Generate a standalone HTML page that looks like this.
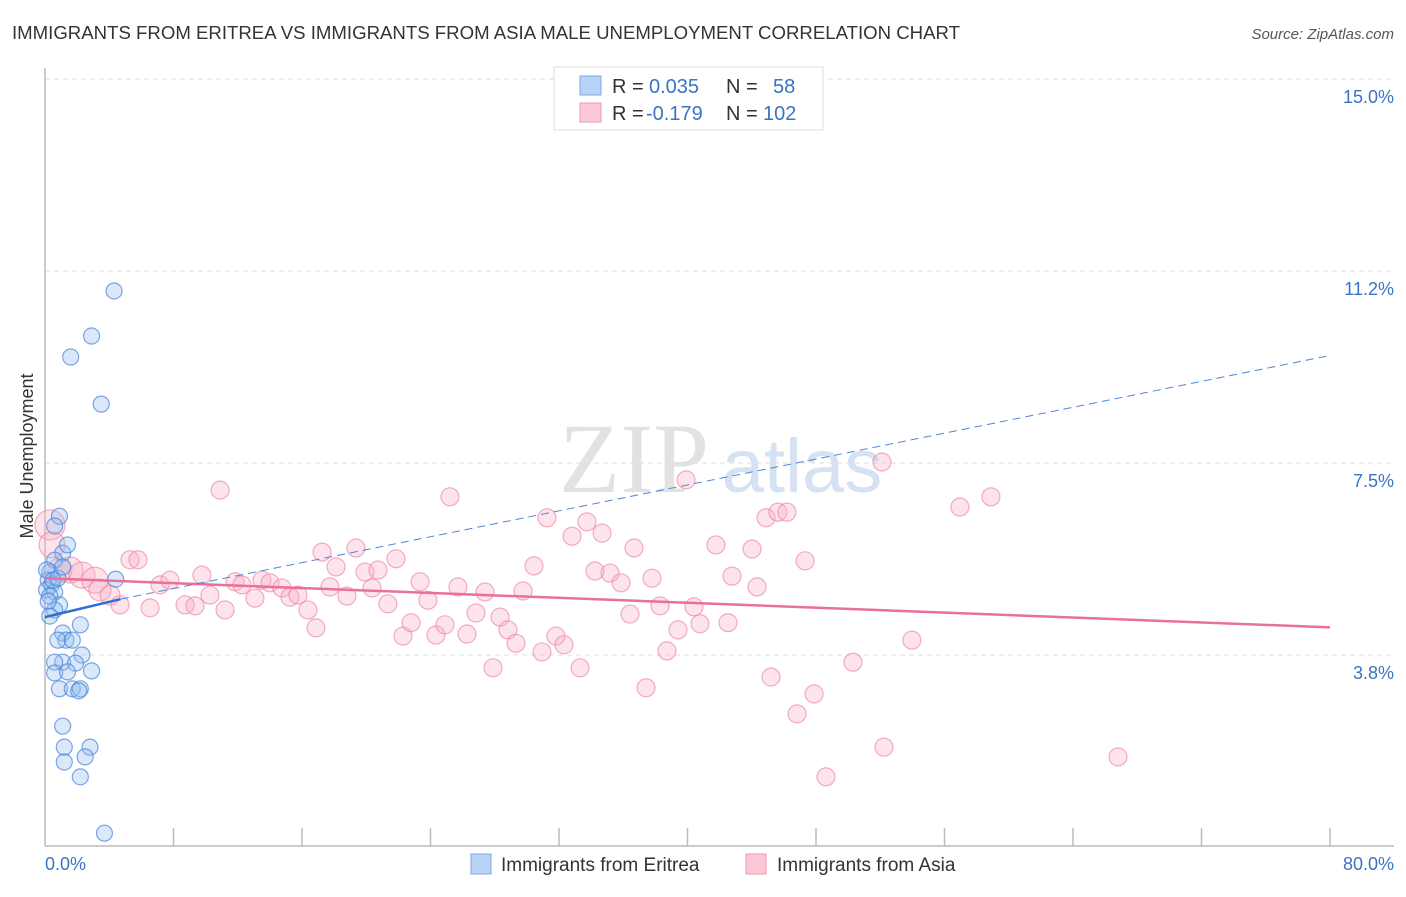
<!DOCTYPE html>
<html><head><meta charset="utf-8"><style>
body{margin:0;background:#fff;font-family:"Liberation Sans",sans-serif;}
#wrap{position:relative;width:1406px;height:892px;}
</style></head><body>
<div id="wrap">
<svg id="svg" width="1406" height="892" xmlns="http://www.w3.org/2000/svg">
<text x="12" y="39" font-size="18" fill="#333" textLength="948" lengthAdjust="spacingAndGlyphs">IMMIGRANTS FROM ERITREA VS IMMIGRANTS FROM ASIA MALE UNEMPLOYMENT CORRELATION CHART</text>
<text x="1394" y="39" font-size="15" fill="#555" font-style="italic" text-anchor="end">Source: ZipAtlas.com</text>
<text x="634" y="492" font-size="100" fill="#e2e2e2" font-family="Liberation Serif,serif" text-anchor="middle">ZIP</text>
<text x="802" y="492" font-size="76" fill="#d4e2f2" text-anchor="middle">atlas</text>
<g id="grid"></g>
<line x1="45" y1="68" x2="45" y2="846" stroke="#bbb" stroke-width="1.5"/>
<line x1="45" y1="846" x2="1394" y2="846" stroke="#bbb" stroke-width="1.5"/>
<text transform="translate(33,456) rotate(-90)" font-size="18" fill="#333" text-anchor="middle">Male Unemployment</text>
<text x="45" y="870" font-size="18" fill="#3b73c4">0.0%</text>
<text x="1394" y="870" font-size="18" fill="#3b73c4" text-anchor="end">80.0%</text>
<g id="pts"></g>
<g id="lines"></g>
<g>
<rect x="554" y="67" width="269" height="63" fill="#fff" stroke="#ddd"/>
<rect x="580" y="76" width="21" height="19" fill="#b8d3f5" stroke="#7eaae6"/>
<rect x="580" y="103" width="21" height="19" fill="#fcc8d6" stroke="#f096b2"/>
<text x="612" y="93" font-size="20" fill="#333">R = </text><text x="649" y="93" font-size="20" fill="#3b73c4">0.035</text>
<text x="726" y="93" font-size="20" fill="#333">N = </text><text x="773" y="93" font-size="20" fill="#3b73c4">58</text>
<text x="612" y="120" font-size="20" fill="#333">R = </text><text x="646" y="120" font-size="20" fill="#3b73c4">-0.179</text>
<text x="726" y="120" font-size="20" fill="#333">N = </text><text x="763" y="120" font-size="20" fill="#3b73c4">102</text>
</g>
<g>
<rect x="471" y="854" width="20" height="20" fill="#b8d3f5" stroke="#7eaae6"/>
<text x="501" y="871" font-size="19" fill="#333">Immigrants from Eritrea</text>
<rect x="746" y="854" width="20" height="20" fill="#fcc8d6" stroke="#f096b2"/>
<text x="777" y="871" font-size="19" fill="#333">Immigrants from Asia</text>
</g>
</svg>
</div>
<script>
const yTicks=[15,11.25,7.5,3.75];
const yTickLabels=["15.0%","11.2%","7.5%","3.8%"];
const xTicks=[8,16,24,32,40,48,56,64,72,80];
const blueX=[4.3,2.9,1.6,3.5,0.9,0.6,1.1,1.4,0.6,0.3,0.2,0.4,0.1,0.6,0.3,0.9,0.6,4.4,2.2,1.1,1.3,0.8,1.7,2.3,1.1,0.6,1.9,2.9,0.6,1.4,0.9,1.7,2.2,2.1,1.1,1.2,2.8,1.2,2.5,2.2,3.7,0.2,0.3,0.1,0.5,0.8,1.1];
const blueY=[10.86,9.98,9.57,8.65,6.46,6.27,5.74,5.9,5.6,5.37,5.21,5.12,5.02,4.98,4.9,4.73,4.63,5.23,4.34,4.18,4.04,4.04,4.04,3.75,3.61,3.61,3.59,3.44,3.4,3.42,3.09,3.09,3.09,3.05,2.36,1.95,1.95,1.66,1.76,1.37,0.27,4.8,4.51,5.41,5.21,5.25,5.47];
const pinkX=[0.31,0.44,0.93,1.56,2.30,3.11,3.42,4.05,4.67,5.29,5.79,6.54,7.16,7.78,8.72,9.34,9.77,10.27,10.90,11.21,11.83,12.26,13.07,13.51,14.01,14.75,15.25,15.75,16.37,16.87,17.25,17.74,18.12,18.80,19.36,19.92,20.36,20.73,21.35,21.85,22.29,22.79,23.35,23.84,24.34,24.90,25.21,25.71,26.27,26.83,27.39,27.89,28.33,28.82,29.32,29.76,30.44,30.94,31.25,31.81,32.31,32.81,33.31,33.74,34.24,34.68,35.18,35.86,36.42,36.67,37.42,37.79,38.29,38.72,39.41,39.91,40.40,40.78,41.77,42.52,42.77,44.02,44.33,44.89,45.20,45.63,46.19,46.82,47.32,47.88,48.62,50.30,52.11,52.23,53.97,56.96,58.89,66.80];
const pinkY=[6.29,5.90,5.41,5.41,5.31,5.21,5.02,4.92,4.73,5.61,5.61,4.67,5.12,5.21,4.73,4.71,5.31,4.92,6.97,4.63,5.18,5.12,4.86,5.21,5.16,5.06,4.88,4.92,4.63,4.28,5.76,5.08,5.47,4.90,5.84,5.37,5.06,5.41,4.75,5.63,4.12,4.38,5.18,4.82,4.14,4.34,6.84,5.08,4.16,4.57,4.98,3.50,4.49,4.24,3.98,5.00,5.49,3.81,6.43,4.12,3.95,6.07,3.50,6.35,5.39,6.13,5.35,5.16,4.55,5.84,3.11,5.25,4.71,3.83,4.24,7.17,4.69,4.36,5.90,4.38,5.29,5.82,5.08,6.43,3.32,6.54,6.54,2.60,5.59,2.99,1.37,3.61,7.52,1.95,4.04,6.64,6.84,1.76];
const X0=45,X1=1330,Y0=847,PXY=51.2;
function sx(v){return X0+(X1-X0)*v/80;}
function sy(v){return Y0-v*PXY;}
const NS="http://www.w3.org/2000/svg";
function mk(tag,attrs,parent){const e=document.createElementNS(NS,tag);for(const k in attrs)e.setAttribute(k,attrs[k]);parent.appendChild(e);return e;}
const grid=document.getElementById('grid');
yTicks.forEach((t,i)=>{
  const l=mk('line',{x1:45,x2:1394,y1:sy(t),y2:sy(t),stroke:'#ddd','stroke-dasharray':'5,4'},grid);
  
  
  const tx=mk('text',{x:1394,y:sy(t)+24,'font-size':18,fill:'#3b73c4','text-anchor':'end'},grid);
  tx.textContent=yTickLabels[i];
  
  
});
xTicks.forEach(t=>{
  const l=mk('line',{x1:sx(t),x2:sx(t),y1:828,y2:846,stroke:'#bbb','stroke-width':1.5},grid);
  
  
});
const pts=document.getElementById('pts');
const bigR=[15,13,12,13,13,13,11,10];
pinkX.forEach((x,i)=>{
  const c=mk('circle',{cx:sx(x),cy:sy(pinkY[i]),r:(i<bigR.length?bigR[i]:9),fill:'rgba(248,175,198,0.35)',stroke:'rgba(236,130,165,0.65)','stroke-width':1.2},pts);
  
  
});
blueX.forEach((x,i)=>{
  const c=mk('circle',{cx:sx(x),cy:sy(blueY[i]),r:8,fill:'rgba(150,190,240,0.35)',stroke:'rgba(70,130,215,0.7)','stroke-width':1.2},pts);
  
  
});
const lines=document.getElementById('lines');
const pl=mk('line',{x1:sx(0),y1:sy(5.25),x2:sx(80),y2:sy(4.29),stroke:'#e8709a','stroke-width':2.5},lines);


const bl=mk('line',{x1:sx(0),y1:sy(4.49),x2:sx(4.7),y2:sy(4.84),stroke:'#2f6fd0','stroke-width':2.5},lines);


const bd=mk('line',{x1:sx(4.7),y1:sy(4.84),x2:sx(80),y2:sy(9.6),stroke:'#4d86d6','stroke-width':1,'stroke-dasharray':'8,5'},lines);


</script>
</body></html>
